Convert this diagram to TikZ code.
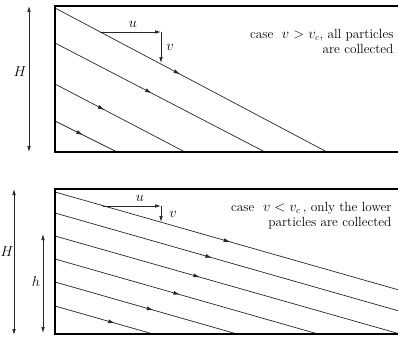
\documentclass[tikz,border=0pt]{standalone}
\usetikzlibrary{arrows.meta,decorations.markings}
\begin{document}
\begin{tikzpicture}[x=1pt,y=-1pt,
    wall/.style={line width=2.2pt},
    flow/.style={black!85,line width=0.7pt,postaction=decorate,
      decoration={markings,mark=at position #1 with {\arrow{Latex[length=6.5pt,width=4pt]}}}},
    vel/.style={black!85,line width=0.7pt,-{Latex[length=6pt,width=3.6pt]}},
    dim/.style={black!85,line width=0.7pt,{Latex[length=6pt,width=3.6pt]}-{Latex[length=6pt,width=3.6pt]}},
    lbl/.style={font=\fontsize{13.3}{15}\selectfont}]
    \useasboundingbox (0,0) rectangle (398,337);

    % case v > v_c
    \foreach \i/\ys/\xe/\p in {1/8/327/0.46,2/43/265/0.46,3/84/185/0.38,4/121/117/0.45} {
        \coordinate (a\i s) at (55,\ys);
        \coordinate (a\i e) at (\xe,152);
        \draw[flow=\p] (a\i s) -- (a\i e);
    }
    \draw[wall] (420,6) -- (55,6) -- (55,152) -- (420,152);
    \coordinate (uA0) at (100,32);
    \coordinate (uA1) at (161,32);
    \coordinate (vA1) at (161,63);
    \draw[vel] (uA0) -- (uA1);
    \draw[vel] (uA1) -- (vA1);
    \node[lbl] (uA) at (133,24) {$u$};
    \node[lbl] (vA) at (170,47) {$v$};
    \coordinate (HA0) at (29,6);
    \coordinate (HA1) at (29,152);
    \draw[dim] (HA0) -- (HA1);
    \node[lbl] (HA) at (20,72) {$H$};
    \node[lbl,align=right,anchor=east] (txtA) at (397,41) {case\ \ $v>v_c$, all particles\\are collected};

    % case v < v_c
    \foreach \i/\ys/\xe/\ye/\p in {1/192/420/296/0.48,2/213/420/317/0.43,3/236/400/334/0.42,4/259/318/334/0.475,5/282/237/334/0.54,6/306/153/334/0.61} {
        \coordinate (b\i s) at (55,\ys);
        \coordinate (b\i e) at (\xe,\ye);
        \draw[flow=\p] (b\i s) -- (b\i e);
    }
    \draw[wall] (420,189) -- (55,189) -- (55,334) -- (420,334);
    \coordinate (uB0) at (103,206);
    \coordinate (uB1) at (161,206);
    \coordinate (vB1) at (161,222);
    \draw[vel] (uB0) -- (uB1);
    \draw[vel] (uB1) -- (vB1);
    \node[lbl] (uB) at (140,198) {$u$};
    \node[lbl] (vB) at (173,214) {$v$};
    \coordinate (HB0) at (14,189);
    \coordinate (HB1) at (14,335);
    \draw[dim] (HB0) -- (HB1);
    \node[lbl,inner sep=0pt,anchor=west] (HB) at (0.5,252) {$H$};
    \coordinate (hB0) at (43,234);
    \coordinate (hB1) at (43,333);
    \draw[dim] (hB0) -- (hB1);
    \node[lbl] (hB) at (36,281) {$h$};
    \node[lbl,align=right,anchor=east] (txtB) at (395,216) {case\ \ $v<v_c$\,, only the lower\\particles are collected};
\end{tikzpicture}
\end{document}
